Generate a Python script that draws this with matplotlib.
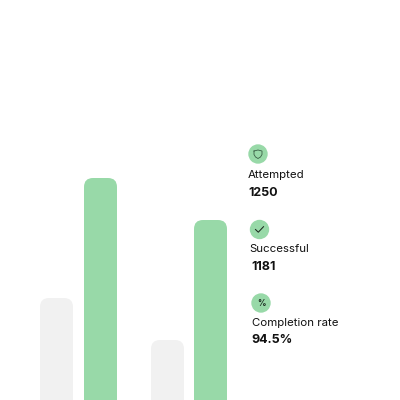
import matplotlib
matplotlib.use('Agg')
import matplotlib.pyplot as plt
from matplotlib.patches import FancyBboxPatch, Circle

plt.rcParams['font.family'] = ['Inter', 'DejaVu Sans']

# bar heights (pixels above the bottom edge)
bar_lefts = [40, 84, 151, 194]
bar_heights = [102, 222, 60, 180]
bar_colors = ['#f1f1f1', '#98d9a8', '#f1f1f1', '#98d9a8']

stat_labels = ['Attempted', 'Successful', 'Completion rate']
stat_values = ['1250', '1181', '94.5%']

bar_width = 33
radius = 9
green = '#98d9a8'
dark = '#111111'

fig = plt.figure(figsize=(4, 4), dpi=100)
ax = fig.add_axes([0, 0, 1, 1])
ax.set_xlim(0, 400)
ax.set_ylim(0, 400)
ax.axis('off')

for left, h, c in zip(bar_lefts, bar_heights, bar_colors):
    # box runs past the bottom so only the top corners look rounded
    ax.add_patch(FancyBboxPatch((left + radius, -20), bar_width - 2 * radius, h + 20 - radius,
                                boxstyle='round,pad=%d,rounding_size=%d' % (radius, radius),
                                facecolor=c, edgecolor='none'))

icon_x = [258, 259.5, 261]
icon_y = [246, 170.5, 97]
label_x = [248, 249, 251.5]
label_y = [225, 151, 77.5]
value_x = [248.5, 251.5, 251.5]
value_y = [207, 133, 60]

for i in range(3):
    ax.add_patch(Circle((icon_x[i], icon_y[i]), 9.7, facecolor=green, edgecolor='none'))
    ax.text(label_x[i], label_y[i], stat_labels[i], fontsize=8.25, color=dark, va='center', ha='left')
    ax.text(value_x[i], value_y[i], stat_values[i], fontsize=9, color=dark, fontweight='bold', va='center', ha='left')

# shield icon
sx, sy = icon_x[0], icon_y[0]
ax.plot([sx - 4, sx, sx + 4, sx + 4, sx + 2.5, sx, sx - 2.5, sx - 4, sx - 4],
        [sy + 3, sy + 4, sy + 3, sy - 0.5, sy - 3, sy - 4.5, sy - 3, sy - 0.5, sy + 3],
        color='#3a5f46', lw=0.6)
# check icon
cx, cy = icon_x[1], icon_y[1]
ax.plot([cx - 4, cx - 1.2, cx + 4], [cy, cy - 2.7, cy + 2.8], color='#1c2a20', lw=0.75)
# percent icon
ax.text(icon_x[2], icon_y[2], '%', fontsize=6, color='#1c2a20', fontweight='bold', ha='center', va='center')

fig.savefig('out.png', dpi=100)
